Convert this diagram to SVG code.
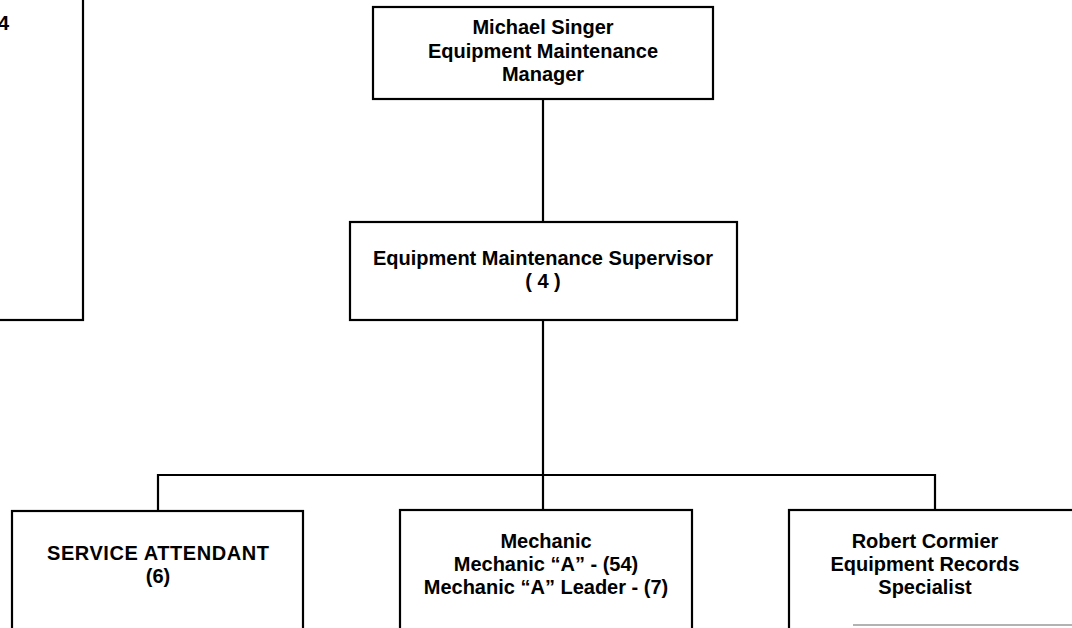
<svg xmlns="http://www.w3.org/2000/svg" width="1072" height="628" viewBox="0 0 1072 628">
<style>
.box{fill:#fff;stroke:#000;stroke-width:2.2}
.t{font-family:"Liberation Sans",Arial,sans-serif;font-weight:bold;font-size:20px;fill:#000;text-anchor:middle}
.c{fill:none;stroke:#000;stroke-width:2.2}
</style>
<rect width="1072" height="628" fill="#fff"/>
<g id="connectors">
<line class="c" x1="543" y1="99" x2="543" y2="222"/>
<line class="c" x1="543" y1="320" x2="543" y2="510"/>
<polyline class="c" points="158,511 158,475 935,475 935,510"/>
</g>
<g id="node-left">
<rect class="box" x="-20" y="-20" width="103" height="340"/>
<text class="t" x="9" y="30" style="text-anchor:end">4</text>
</g>
<g id="node-manager">
<rect class="box" x="373" y="7" width="340" height="92"/>
<text class="t" x="543" y="34">Michael Singer</text>
<text class="t" x="543" y="58">Equipment Maintenance</text>
<text class="t" x="543" y="81">Manager</text>
</g>
<g id="node-supervisor">
<rect class="box" x="350" y="222" width="387" height="98"/>
<text class="t" x="543" y="265">Equipment Maintenance Supervisor</text>
<text class="t" x="543" y="288">( 4 )</text>
</g>
<g id="node-service">
<rect class="box" x="12" y="511" width="291" height="140"/>
<text class="t" x="158" y="560" textLength="222" lengthAdjust="spacing">SERVICE ATTENDANT</text>
<text class="t" x="158" y="583">(6)</text>
</g>
<g id="node-mechanic">
<rect class="box" x="400" y="510" width="292" height="140"/>
<text class="t" x="546" y="548">Mechanic</text>
<text class="t" x="546" y="571">Mechanic “A” - (54)</text>
<text class="t" x="546" y="594">Mechanic “A” Leader - (7)</text>
</g>
<g id="node-records">
<rect class="box" x="789" y="510" width="300" height="140"/>
<text class="t" x="925" y="548">Robert Cormier</text>
<text class="t" x="925" y="571">Equipment Records</text>
<text class="t" x="925" y="594">Specialist</text>
<line x1="853" y1="625" x2="1072" y2="625" stroke="#999" stroke-width="1.5"/>
</g>
</svg>
